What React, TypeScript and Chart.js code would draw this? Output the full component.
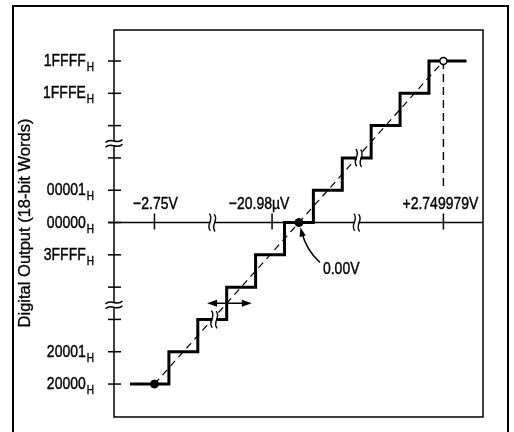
import React, { useEffect, useRef } from 'react';
import { Chart, registerables } from 'chart.js';

Chart.register(...registerables);

// ---- data (x in LSB steps relative to 0 V, y in code index) ----
const yTickValues = [0, 1, 2, 3, 4, 5, 6, 7, 8, 9, 10];
const yTickLabels = ['20000', '20001', '', '', '3FFFF', '00000', '00001', '', '', '1FFFE', '1FFFF'];
const yBreaks = [2.45, 7.45];
const xTickValues = [-5, -0.93, 5];
const xTickLabels = ['\u22122.75V', '\u221220.98\u00b5V', '+2.749979V'];
const xBreaks = [-3, 2];
const stepEdges = [-5.85, -4.5, -3.5, -2.5, -1.5, -0.5, 0.5, 1.5, 2.5, 3.5, 4.5, 5.8];
const stepCodes = [0, 1, 2, 3, 4, 5, 6, 7, 8, 9, 10];
const idealX = [-5, 5];
const idealY = [0, 10];
const filledX = [-5, 0];
const filledY = [0, 5];
const openX = [5];
const openY = [10];
const fsDashX = 5;
const fsDashY = [10, 6.05];
const arrowX = [-3.18, -1.63];
const arrowY = 2.5;
const zeroLabel = '0.00V';
const yTitle = 'Digital Output (18-bit Words)';
const axisCode = 5;

const FONT = '"Liberation Sans", Arial, Helvetica, sans-serif';
const SY = 1.22;

function txt(
  ctx: CanvasRenderingContext2D,
  s: string,
  x: number,
  y: number,
  size: number,
  align: CanvasTextAlign,
) {
  ctx.save();
  ctx.translate(x, y);
  ctx.scale(1, SY);
  ctx.font = `${size}px ${FONT}`;
  ctx.textAlign = align;
  ctx.textBaseline = 'alphabetic';
  ctx.fillStyle = '#000';
  ctx.strokeStyle = '#000';
  ctx.lineWidth = 0.35;
  ctx.fillText(s, 0, 0);
  ctx.strokeText(s, 0, 0);
  ctx.restore();
}

function drawBreak(ctx: CanvasRenderingContext2D, cx: number, cy: number, rot: number) {
  ctx.save();
  ctx.translate(cx, cy);
  ctx.rotate(rot);
  const h = 17;
  const gap = 4.8;
  ctx.fillStyle = '#fff';
  ctx.fillRect(-gap / 2 + 0.6, -5, gap - 1.2, 10);
  ctx.strokeStyle = '#000';
  ctx.lineWidth = 1.4;
  for (const dx of [-gap / 2, gap / 2]) {
    ctx.beginPath();
    ctx.moveTo(dx - 1.5, -h / 2);
    ctx.bezierCurveTo(dx + 4.5, -h / 6, dx - 4.5, h / 6, dx + 1.5, h / 2);
    ctx.stroke();
  }
  ctx.restore();
}

function arrowHead(ctx: CanvasRenderingContext2D, x: number, y: number, ang: number, len: number, hw: number) {
  ctx.save();
  ctx.translate(x, y);
  ctx.rotate(ang);
  ctx.beginPath();
  ctx.moveTo(0, 0);
  ctx.lineTo(-len, -hw);
  ctx.lineTo(-len, hw);
  ctx.closePath();
  ctx.fillStyle = '#000';
  ctx.fill();
  ctx.restore();
}

const deco = {
  id: 'deco',
  beforeDatasetsDraw(chart: any) {
    const { ctx, chartArea: a, scales } = chart;
    const xs = scales.x;
    const ys = scales.y;
    ctx.save();
    ctx.fillStyle = '#fff';
    ctx.fillRect(0, 0, chart.width, chart.height);
    ctx.strokeStyle = '#000';
    // outer frame
    ctx.lineWidth = 2;
    ctx.strokeRect(13, 6, 495, 450);
    // plot frame
    ctx.lineWidth = 1.5;
    ctx.strokeRect(a.left, a.top, a.right - a.left, a.bottom - a.top);
    // x axis line at code 00000
    const y0 = ys.getPixelForValue(axisCode);
    ctx.beginPath();
    ctx.moveTo(a.left - 6, y0);
    ctx.lineTo(a.right, y0);
    ctx.stroke();
    // y ticks & labels
    yTickValues.forEach((v, i) => {
      const py = ys.getPixelForValue(v);
      ctx.lineWidth = 1.5;
      ctx.beginPath();
      ctx.moveTo(a.left - 6, py);
      ctx.lineTo(a.left + 7, py);
      ctx.stroke();
      const lab = yTickLabels[i];
      if (lab) {
        ctx.font = `10px ${FONT}`;
        const hw = ctx.measureText('H').width;
        txt(ctx, 'H', a.left - 20 - hw, py + 10, 10, 'left');
        txt(ctx, lab, a.left - 21 - hw, py + 5, 14, 'right');
      }
    });
    // x ticks & labels
    const xOff = [1, -13, -3];
    xTickValues.forEach((v, i) => {
      const px = xs.getPixelForValue(v);
      ctx.lineWidth = 1.5;
      ctx.beginPath();
      ctx.moveTo(px, y0 - 9);
      ctx.lineTo(px, y0 + 7);
      ctx.stroke();
      txt(ctx, xTickLabels[i], px + xOff[i], y0 - 14, 14, 'center');
    });
    // vertical dashed line at full scale
    ctx.setLineDash([8, 5]);
    ctx.lineWidth = 1.4;
    ctx.beginPath();
    const fx = xs.getPixelForValue(fsDashX);
    ctx.moveTo(fx, ys.getPixelForValue(fsDashY[0]));
    ctx.lineTo(fx, ys.getPixelForValue(fsDashY[1]));
    ctx.stroke();
    ctx.setLineDash([]);
    // y title
    ctx.save();
    ctx.translate(25, 223);
    ctx.rotate(-Math.PI / 2);
    ctx.font = `16.5px ${FONT}`;
    ctx.textAlign = 'center';
    ctx.textBaseline = 'middle';
    ctx.fillStyle = '#000';
    ctx.strokeStyle = '#000';
    ctx.lineWidth = 0.3;
    ctx.fillText(yTitle, 0, 0);
    ctx.strokeText(yTitle, 0, 0);
    ctx.restore();
    ctx.restore();
  },
  afterDatasetsDraw(chart: any) {
    const { ctx, chartArea: a, scales } = chart;
    const xs = scales.x;
    const ys = scales.y;
    ctx.save();
    const y0 = ys.getPixelForValue(axisCode);
    // breaks on axes and staircase
    xBreaks.forEach((v) => {
      const px = xs.getPixelForValue(v);
      drawBreak(ctx, px, y0, 0.12);
      const lvl = stepCodes[stepEdges.findIndex((e, i) => v >= e && v < stepEdges[i + 1])];
      drawBreak(ctx, px + 2, ys.getPixelForValue(lvl), 0.12);
    });
    yBreaks.forEach((v) => {
      drawBreak(ctx, a.left, ys.getPixelForValue(v), Math.PI / 2);
    });
    // double arrow
    const ay = ys.getPixelForValue(arrowY);
    const ax0 = xs.getPixelForValue(arrowX[0]);
    const ax1 = xs.getPixelForValue(arrowX[1]);
    ctx.strokeStyle = '#000';
    ctx.lineWidth = 1.5;
    ctx.beginPath();
    ctx.moveTo(ax0 + 4, ay);
    ctx.lineTo(ax1 - 4, ay);
    ctx.stroke();
    arrowHead(ctx, ax0, ay, Math.PI, 10, 3.5);
    arrowHead(ctx, ax1, ay, 0, 10, 3.5);
    // 0.00V callout
    const zx = xs.getPixelForValue(filledX[1]);
    const zy = ys.getPixelForValue(filledY[1]);
    ctx.beginPath();
    ctx.moveTo(zx + 21, zy + 40);
    ctx.quadraticCurveTo(zx + 7, zy + 27, zx + 3, zy + 10);
    ctx.stroke();
    arrowHead(ctx, zx + 1.5, zy + 5, -Math.PI / 2 - 0.25, 9, 3.2);
    txt(ctx, zeroLabel, zx + 24, zy + 51, 14, 'left');
    ctx.restore();
  },
};

export default function App() {
  const ref = useRef<HTMLCanvasElement>(null);
  useEffect(() => {
    document.body.style.margin = '0';
    const stairs: { x: number; y: number }[] = [];
    stepCodes.forEach((c, i) => {
      stairs.push({ x: stepEdges[i], y: c });
      stairs.push({ x: stepEdges[i + 1], y: c });
    });
    const chart = new Chart(ref.current!, {
      type: 'line',
      data: {
        datasets: [
          {
            data: filledX.map((x, i) => ({ x, y: filledY[i] })),
            showLine: false,
            pointRadius: 4,
            pointBackgroundColor: '#000',
            pointBorderColor: '#000',
            order: 0,
          } as any,
          {
            data: openX.map((x, i) => ({ x, y: openY[i] })),
            showLine: false,
            pointRadius: 3.5,
            pointBorderWidth: 1.5,
            pointBackgroundColor: '#fff',
            pointBorderColor: '#000',
            order: 1,
          },
          {
            data: stairs,
            borderColor: '#000',
            borderWidth: 3,
            pointRadius: 0,
            borderJoinStyle: 'miter',
            tension: 0,
            order: 2,
          },
          {
            data: idealX.map((x, i) => ({ x, y: idealY[i] })),
            borderColor: '#000',
            borderWidth: 1.2,
            borderDash: [7, 5],
            pointRadius: 0,
            order: 3,
          },
        ],
      },
      options: {
        responsive: false,
        animation: false,
        layout: { padding: { left: 114, top: 30, right: 31, bottom: 15 } },
        scales: {
          x: { type: 'linear', min: -6.4, max: 6.37, display: false },
          y: { type: 'linear', min: -1.02, max: 10.96, display: false },
        },
        plugins: { legend: { display: false }, tooltip: { enabled: false } },
        events: [],
      },
      plugins: [deco],
    });
    return () => chart.destroy();
  }, []);
  return (
    <div style={{ position: 'absolute', left: 0, top: 0, width: 514, height: 432 }}>
      <canvas ref={ref} width={514} height={432} />
    </div>
  );
}
